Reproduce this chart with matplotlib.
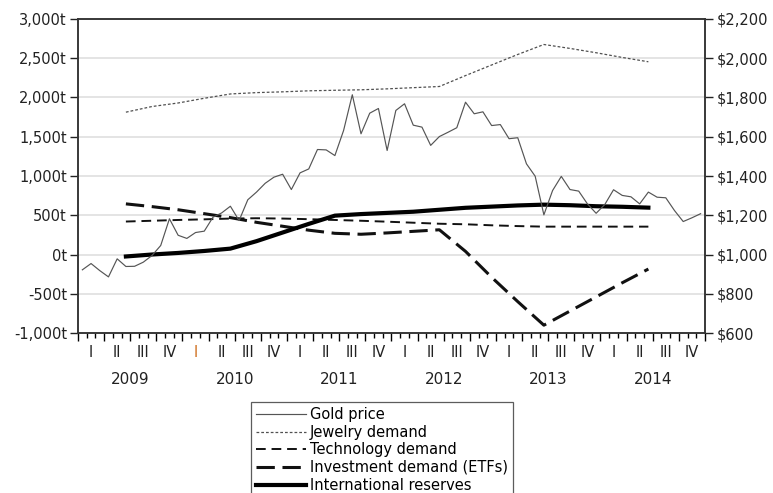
import matplotlib
matplotlib.use('Agg')
import matplotlib.pyplot as plt
import numpy as np

plt.rcParams['font.family'] = ['DejaVu Sans']

# monthly gold price, Jan 2009 - Dec 2014 (right axis, $)
gold_price = [922, 954, 918, 886, 978, 939, 940, 961, 995, 1046, 1182, 1098,
              1082, 1112, 1119, 1190, 1212, 1246, 1173, 1279, 1318, 1363, 1394, 1409,
              1331, 1416, 1436, 1535, 1533, 1504, 1632, 1814, 1615, 1720, 1744, 1530,
              1734, 1768, 1659, 1649, 1556, 1601, 1623, 1646, 1776, 1717, 1727, 1657,
              1662, 1590, 1595, 1462, 1399, 1202, 1326, 1398, 1331, 1323, 1258, 1210,
              1255, 1330, 1301, 1294, 1258, 1318, 1292, 1289, 1224, 1168, 1187, 1208]

# quarterly flows (left axis, tonnes), Jun 2009 - Jun 2014
flow_months = [5, 8, 11, 14, 17, 20, 23, 26, 29, 32, 35, 38, 41, 44, 47, 50, 53, 56, 59, 62, 65]
jewelry = [1813, 1885, 1930, 1990, 2045, 2062, 2072, 2085, 2092, 2098, 2110, 2125,
           2140, 2279, 2414, 2548, 2675, 2625, 2570, 2510, 2455]
technology = [420, 430, 440, 448, 458, 462, 458, 450, 440, 430, 418, 405,
              392, 385, 372, 362, 355, 355, 355, 355, 355]
investment = [645, 610, 570, 520, 470, 410, 360, 310, 270, 258, 275, 295,
              315, 40, -290, -600, -900, -720, -540, -360, -185]
reserves = [-25, 0, 20, 45, 75, 170, 280, 390, 495, 515, 530, 545,
            570, 595, 610, 625, 635, 628, 615, 608, 597]

years = ['2009', '2010', '2011', '2012', '2013', '2014']
quarters = ['I', 'II', 'III', 'IV']

fig = plt.figure(figsize=(7.73, 4.93), dpi=100)
ax = fig.add_axes([0.1009, 0.3245, 0.8111, 0.637])
ax2 = ax.twinx()

gx = np.arange(len(gold_price)) + 0.5
fx = np.array(flow_months) + 0.5

# gridlines
for yv in np.arange(-500, 3001, 500):
    ax.axhline(yv, color='#dcdcdc', lw=1.1, zorder=0)

l1, = ax2.plot(gx, gold_price, color='#555555', lw=0.85, label='Gold price')
l2, = ax.plot(fx, jewelry, color='#505050', lw=0.9, dashes=(2.2, 1.6), label='Jewelry demand')
l3, = ax.plot(fx, technology, color='#111111', lw=1.4, dashes=(5, 3), label='Technology demand')
l4, = ax.plot(fx, investment, color='#111111', lw=2.2, dashes=(6, 2.5), label='Investment demand (ETFs)')
l5, = ax.plot(fx, reserves, color='#000000', lw=3.0, label='International reserves')

ax.set_xlim(0, 72)
ax.set_ylim(-1000, 3000)
ax2.set_ylim(600, 2200)
ax.set_yticks(np.arange(-1000, 3001, 500))
ax.set_yticklabels(['{:,}t'.format(v) for v in range(-1000, 3001, 500)])
ax2.set_yticks(np.arange(600, 2201, 200))
ax2.set_yticklabels(['${:,}'.format(v) for v in range(600, 2201, 200)])

ax.set_xticks(np.arange(0, 73, 3))
ax.set_xticks(np.arange(0, 73, 1), minor=True)
ax.set_xticklabels([])
ax.tick_params(axis='x', which='major', length=6, width=1.0, direction='out')
ax.tick_params(axis='x', which='minor', length=3.5, width=1.0, direction='out')
ax.tick_params(axis='y', length=6, width=1.0, pad=2, labelsize=10.5, colors='#222222')
ax2.tick_params(axis='y', length=6, width=1.0, pad=2.5, labelsize=10.5, colors='#222222')

for sp in list(ax.spines.values()) + list(ax2.spines.values()):
    sp.set_linewidth(1.1)
    sp.set_color('#333333')

# quarter and year labels
tr = ax.get_xaxis_transform()
for i, yr in enumerate(years):
    for q, ql in enumerate(quarters):
        c = '#d07020' if (i == 1 and q == 0) else '#222222'
        ax.text(i * 12 + q * 3 + 1.5, -0.061, ql, transform=tr, ha='center', va='center',
                fontsize=10.5, color=c)
    ax.text(i * 12 + 6, -0.147, yr, transform=tr, ha='center', va='center',
            fontsize=11, color='#222222')

leg = fig.legend(handles=[l1, l2, l3, l4, l5], loc='upper left',
                 bbox_to_anchor=(251 / 773, 1 - 402 / 493), fontsize=10.5,
                 frameon=True, fancybox=False, edgecolor='#333333',
                 handlelength=3.4, handletextpad=0.3, labelspacing=0.18,
                 borderpad=0.35, borderaxespad=0)
leg.get_frame().set_linewidth(0.9)

fig.savefig('out.png', dpi=100)
